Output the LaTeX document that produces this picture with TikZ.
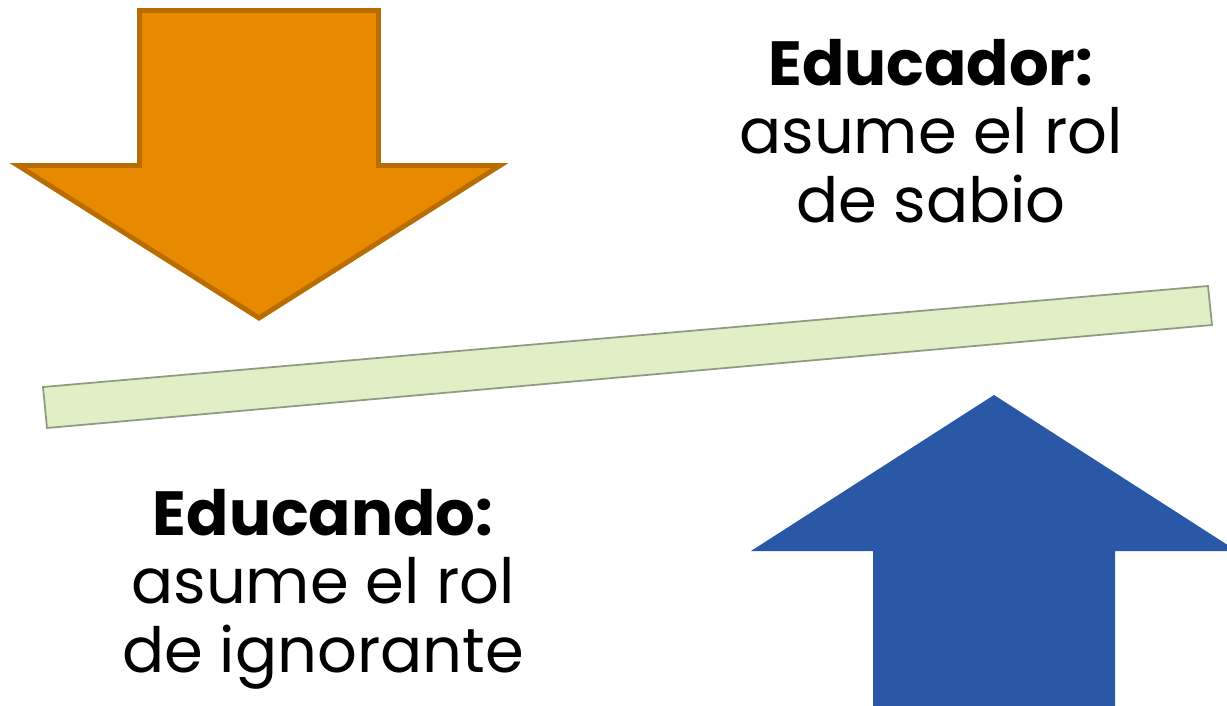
\documentclass[tikz,border=0pt]{standalone}
\usepackage{fontspec}
\setmainfont{Poppins}
\usepackage{tikz}
\definecolor{flechanaranja}{HTML}{E88A00}
\definecolor{bordenaranja}{HTML}{B96C00}
\definecolor{flechaazul}{HTML}{2858A6}
\definecolor{barraverde}{HTML}{E1EFC7}
\definecolor{bordebarra}{HTML}{8E9B80}
\tikzset{texto/.style={align=center, anchor=base, font=\fontsize{35.5}{38.8}\selectfont}}

\begin{document}
\begin{tikzpicture}[x=0.02cm, y=-0.02cm]
		\useasboundingbox (0,0) rectangle (1227,706);
		\clip (0,0) rectangle (1227,706);
		%\draw [help lines, step=100] (0,0) grid (1227,706);
		% flecha hacia abajo
		\draw [fill = flechanaranja, draw = bordenaranja, line width = 2.8pt, line join = miter]
			(139.5,10.5) -- (378.5,10.5) -- (378.5,165.5) -- (500,165.5) -- (259,318) -- (18,165.5) -- (139.5,165.5) -- cycle;
		% flecha hacia arriba
		\fill [flechaazul] (994,395) -- (1237,551) -- (1115,551) -- (1115,720) -- (873,720) -- (873,551) -- (751,551) -- cycle;
		% barra
		\draw [fill = barraverde, draw = bordebarra, line width = 1pt]
			(43,387) -- (1208,286) -- (1212,325) -- (47,428) -- cycle;
		% textos (anclados en la linea base de la ultima linea)
		\node [texto] (educador) at (931,222) {\textbf{Educador:}\\asume el rol\\de sabio};
		\node [texto] (educando) at (323,672) {\textbf{Educando:}\\asume el rol\\de ignorante};
\end{tikzpicture}
\end{document}
